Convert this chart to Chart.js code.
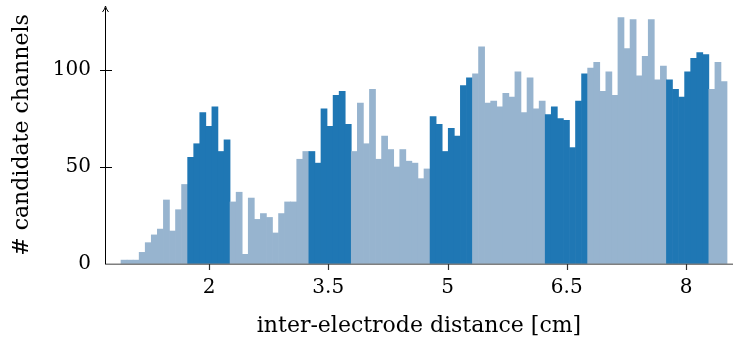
<!DOCTYPE html>
<html>
<head>
<meta charset="utf-8">
<script src="https://cdn.jsdelivr.net/npm/chart.js@4"></script>
<style>
  html, body { margin: 0; padding: 0; background: #fff; }
  #wrap { width: 733px; height: 339px; position: relative; }
</style>
</head>
<body>
<div id="wrap"><canvas id="c" width="733" height="339"></canvas></div>
<script>
// Histogram bins: first bin left edge and bin width (cm)
const binStart = 0.893;
const binWidth = 0.07623;

// Counts per bin, left to right
const counts = [
  2, 2, 2, 6, 11, 15, 18, 33, 17, 28, 41,
  55, 62, 78, 71, 81, 58, 64,
  32, 37, 5, 34, 23, 26, 24, 16, 26, 32, 32, 54, 58,
  58, 52, 80, 71, 87, 89, 72,
  58, 83, 62, 90, 54, 66, 59, 50, 59, 53, 52, 44, 49,
  76, 72, 58, 70, 66, 92, 96,
  98, 112, 83, 84, 81, 88, 86, 99, 78, 96, 80, 84,
  77, 81, 75, 74, 60, 84, 98,
  101, 104, 89, 99, 87, 127, 111, 126, 97, 107, 126, 95, 102,
  95, 90, 86, 99, 106, 109, 108,
  90, 104, 94
];

// Highlighted bin groups (first bin index of each group, group length)
const highlightStarts = [11, 31, 51, 70, 90];
const highlightLen = 7;

// Tick values / labels
const xTicks = [2, 3.5, 5, 6.5, 8];
const xTickLabels = ['2', '3.5', '5', '6.5', '8'];
const yTicks = [0, 50, 100];

const darkColor = '#1f77b4';
const lightColor = '#97b4cf';

const points = counts.map((v, i) => ({ x: binStart + (i + 0.5) * binWidth, y: v }));
const colors = counts.map((v, i) =>
  highlightStarts.some(s => i >= s && i < s + highlightLen) ? darkColor : lightColor);

const FONT = "'DejaVu Serif', serif";
const FS_TICK = 20;
const FS_TITLE = 22;

const axesPlugin = {
  id: 'axesPlugin',
  afterDatasetsDraw(chart) {
    const { ctx, chartArea } = chart;
    const xs = chart.scales.x, ys = chart.scales.y;
    const x0 = chartArea.left, y0 = ys.getPixelForValue(0);
    ctx.save();
    // x axis line (gray)
    ctx.strokeStyle = '#7f7f7f';
    ctx.lineWidth = 1.5;
    ctx.beginPath();
    ctx.moveTo(x0, y0 + 0.25);
    ctx.lineTo(chart.width, y0 + 0.25);
    ctx.stroke();
    // x ticks
    ctx.strokeStyle = '#333';
    ctx.lineWidth = 1.2;
    xTicks.forEach(v => {
      const px = Math.round(xs.getPixelForValue(v)) + 0.5;
      ctx.beginPath();
      ctx.moveTo(px, y0);
      ctx.lineTo(px, y0 + 6);
      ctx.stroke();
    });
    // y axis line
    ctx.strokeStyle = '#000';
    ctx.lineWidth = 1;
    ctx.beginPath();
    ctx.moveTo(x0 + 0.5, y0);
    ctx.lineTo(x0 + 0.5, chartArea.top + 2);
    ctx.stroke();
    // arrow head
    ctx.beginPath();
    ctx.moveTo(x0 + 0.5 - 3, chartArea.top + 6);
    ctx.quadraticCurveTo(x0 + 0.5 - 0.5, chartArea.top + 3, x0 + 0.5, chartArea.top);
    ctx.quadraticCurveTo(x0 + 0.5 + 0.5, chartArea.top + 3, x0 + 0.5 + 3, chartArea.top + 6);
    ctx.stroke();
    // y ticks crossing the axis
    yTicks.forEach(v => {
      if (v === 0) return;
      const py = Math.round(ys.getPixelForValue(v)) + 0.5;
      ctx.beginPath();
      ctx.moveTo(x0 - 5, py);
      ctx.lineTo(x0 + 7, py);
      ctx.stroke();
    });
    ctx.restore();
  }
};

new Chart(document.getElementById('c'), {
  type: 'bar',
  data: {
    datasets: [{
      data: points,
      backgroundColor: colors,
      borderWidth: 0,
      barPercentage: 1,
      categoryPercentage: 1
    }]
  },
  options: {
    responsive: false,
    animation: false,
    events: [],
    layout: { padding: { top: 6, right: 0, left: 0, bottom: 0 } },
    plugins: { legend: { display: false }, tooltip: { enabled: false } },
    scales: {
      x: {
        type: 'linear',
        offset: false,
        min: 0.692,
        max: 8.591,
        afterFit(s) { s.height = 75; s.paddingLeft = 0; s.paddingRight = 0; },
        afterBuildTicks(s) { s.ticks = xTicks.map(v => ({ value: v })); },
        grid: { display: false, drawTicks: false, offset: false },
        border: { display: false },
        ticks: {
          autoSkip: false,
          maxRotation: 0,
          padding: 12,
          color: '#000',
          font: { family: FONT, size: FS_TICK },
          callback: (v) => { const i = xTicks.indexOf(v); return i >= 0 ? xTickLabels[i] : ''; }
        },
        title: {
          display: true,
          text: 'inter-electrode distance [cm]',
          color: '#000',
          font: { family: FONT, size: FS_TITLE },
          padding: { top: 0, bottom: 0 }
        }
      },
      y: {
        min: 0,
        max: 133,
        afterFit(s) { s.width = 105; s.paddingTop = 0; s.paddingBottom = 0; },
        afterBuildTicks(s) { s.ticks = yTicks.map(v => ({ value: v })); },
        grid: { display: false, drawTicks: false },
        border: { display: false },
        ticks: {
          padding: 14,
          color: '#000',
          font: { family: FONT, size: FS_TICK }
        },
        title: {
          display: true,
          text: '# candidate channels',
          color: '#000',
          font: { family: FONT, size: FS_TITLE },
          padding: { top: 9, bottom: 0 }
        }
      }
    }
  },
  plugins: [axesPlugin]
});
</script>
</body>
</html>
